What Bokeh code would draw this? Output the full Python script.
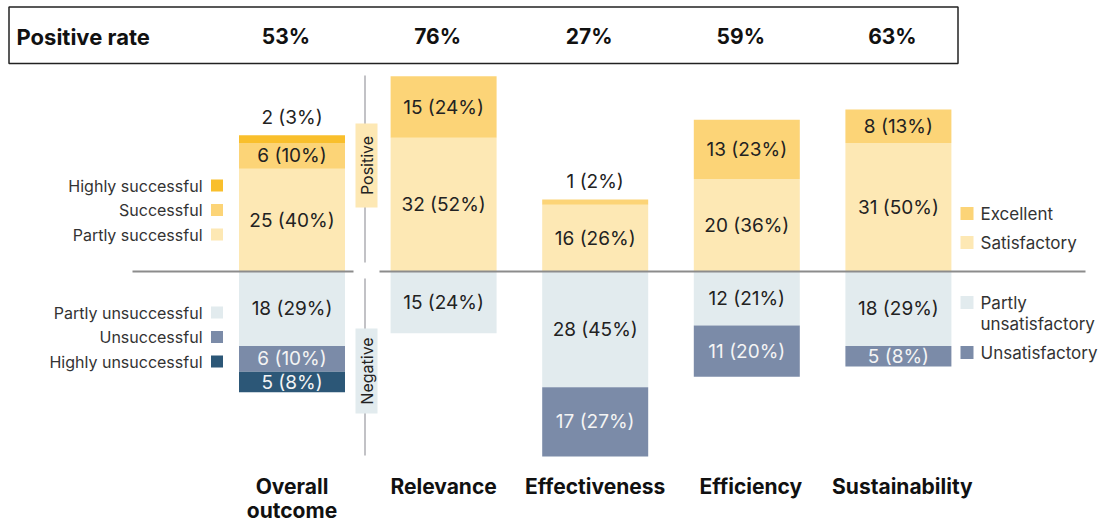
import math
from bokeh.plotting import figure
from bokeh.models import ColumnDataSource, Range1d
from bokeh.core.properties import value
from bokeh.embed import file_html
from bokeh.resources import INLINE

# ---- data -------------------------------------------------------------
categories = ["Overall outcome", "Relevance", "Effectiveness", "Efficiency", "Sustainability"]
cat_lines = [["Overall", "outcome"], ["Relevance"], ["Effectiveness"], ["Efficiency"], ["Sustainability"]]
positive_rate = ["53%", "76%", "27%", "59%", "63%"]

# positive side, from the baseline upwards (tier 1 = mildest)
pos_n = [[25, 32, 16, 20, 31], [6, 15, 1, 13, 8], [2, 0, 0, 0, 0]]
pos_pct = [[40, 52, 26, 36, 50], [10, 24, 2, 23, 13], [3, 0, 0, 0, 0]]
# negative side, from the baseline downwards
neg_n = [[18, 15, 28, 12, 18], [6, 0, 17, 11, 5], [5, 0, 0, 0, 0]]
neg_pct = [[29, 24, 45, 21, 29], [10, 0, 27, 20, 8], [8, 0, 0, 0, 0]]

legend_pos_left = ["Highly successful", "Successful", "Partly successful"]
legend_neg_left = ["Partly unsuccessful", "Unsuccessful", "Highly unsuccessful"]
legend_pos_right = ["Excellent", "Satisfactory"]
legend_neg_right = [["Partly", "unsatisfactory"], ["Unsatisfactory"]]

# ---- styling ----------------------------------------------------------
POS_COLORS = ["#FDE8B4", "#FCD477", "#F9BF2C"]
NEG_COLORS = ["#E2EBEE", "#7B8BA8", "#2C5777"]
NEG_TEXT = ["#222222", "#F4F4F4", "#F4F4F4"]
FONT = value("Inter")
W, H = 1109, 523

# pixel layout helpers (the figure frame fills the whole canvas)
X0, XSTEP = 291.5, 151.6
BASE, PXPCT = 271.0, 2.57


def sx(px):
    return (px - X0) / XSTEP


def sy(py):
    return (BASE - py) / PXPCT


p = figure(width=W, height=H, output_backend="svg", toolbar_location=None,
           x_axis_type=None, y_axis_type=None,
           x_range=Range1d(sx(0), sx(W)), y_range=Range1d(sy(H), sy(0)),
           min_border=0, min_border_left=0, min_border_right=0,
           min_border_top=0, min_border_bottom=0)
p.outline_line_color = None
p.xgrid.visible = False
p.ygrid.visible = False
p.background_fill_color = "white"

BAR_W = 106 / XSTEP
xs = list(range(len(categories)))

# ---- stacked bars -----------------------------------------------------
lab_x, lab_y, lab_t, lab_c = [], [], [], []


def stack(ns, pcts, colors, tcolors, sign):
    bottoms = [0.0] * len(xs)
    for tier in range(3):
        rows = dict(x=[], bottom=[], top=[])
        for i in xs:
            v = pcts[tier][i]
            if v <= 0:
                continue
            b = bottoms[i]
            t = b + sign * v
            rows["x"].append(i)
            rows["bottom"].append(b)
            rows["top"].append(t)
            if v < 5:
                # thin slice: label sits just outside the bar end
                lab_y.append(t + sign * 18 / PXPCT)
                lab_c.append("#222222")
            else:
                lab_y.append((b + t) / 2)
                lab_c.append(tcolors[tier])
            lab_x.append(i)
            lab_t.append(f"{ns[tier][i]} ({v}%)")
            bottoms[i] = t
        p.vbar(x="x", bottom="bottom", top="top", width=BAR_W,
               source=ColumnDataSource(rows), fill_color=colors[tier],
               line_color=None)


stack(pos_n, pos_pct, POS_COLORS, ["#222222"] * 3, 1)
stack(neg_n, neg_pct, NEG_COLORS, NEG_TEXT, -1)

p.text(x="x", y="y", text="t", text_color="c",
       source=ColumnDataSource(dict(x=lab_x, y=lab_y, t=lab_t, c=lab_c)),
       text_font=FONT, text_font_size="19px", text_align="center",
       text_baseline="middle")

# ---- baseline and divider ---------------------------------------------
p.segment(x0=[sx(132), sx(379)], y0=[0, 0], x1=[sx(353), sx(1085)], y1=[0, 0],
          line_color="#8C8C8C", line_width=2)
p.segment(x0=[sx(364.5), sx(364.5)], y0=[sy(75), sy(278)],
          x1=[sx(364.5), sx(364.5)], y1=[sy(262), sy(455)],
          line_color="#C2C2C6", line_width=2)
p.quad(left=[sx(355), sx(355)], right=[sx(377), sx(377)],
       top=[sy(123), sy(328)], bottom=[sy(207), sy(413)],
       fill_color=[POS_COLORS[0], NEG_COLORS[0]], line_color=None)
p.text(x=[sx(366), sx(366)], y=[sy(165), sy(370.5)], text=["Positive", "Negative"],
       angle=math.pi / 2, text_font=FONT, text_font_size="16px",
       text_color="#222222", text_align="center", text_baseline="middle")

# ---- header row -------------------------------------------------------
p.quad(left=[sx(8.5)], right=[sx(957.5)], top=[sy(6.5)], bottom=[sy(63)],
       fill_color=None, line_color="#222222", line_width=1.5)
p.text(x=[sx(16)], y=[sy(36)], text=["Positive rate"], text_font=FONT,
       text_font_size="22px", text_font_style="bold", text_color="#111111",
       text_align="left", text_baseline="middle")
p.text(x=[i - 6 / XSTEP for i in xs], y=[sy(36)] * len(xs), text=positive_rate,
       text_font=FONT, text_font_size="21px", text_font_style="bold",
       text_color="#111111", text_align="center", text_baseline="middle")

# ---- category labels --------------------------------------------------
cx, cy, ct = [], [], []
for i, lines in enumerate(cat_lines):
    for k, line in enumerate(lines):
        cx.append(i + (4 / XSTEP if i >= 3 else 0))
        cy.append(sy(486 + 24 * k))
        ct.append(line)
p.text(x=cx, y=cy, text=ct, text_font=FONT, text_font_size="21px",
       text_font_style="bold", text_color="#111111", text_align="center",
       text_baseline="middle")

# ---- left legend ------------------------------------------------------
left_items = legend_pos_left + legend_neg_left
left_cols = POS_COLORS[::-1] + NEG_COLORS
left_ys = [185, 209.5, 234, 312, 336.5, 361]
p.rect(x=[sx(216.5)] * 6, y=[sy(v) for v in left_ys], width=12, height=12,
       width_units="screen", height_units="screen", fill_color=left_cols,
       line_color=None)
p.text(x=[sx(202)] * 6, y=[sy(v) for v in left_ys], text=left_items,
       text_font=FONT, text_font_size="16px", text_color="#333333",
       text_align="right", text_baseline="middle")

# ---- right legend -----------------------------------------------------
right_cols = [POS_COLORS[1], POS_COLORS[0], NEG_COLORS[0], NEG_COLORS[1]]
right_ys = [213, 242, 302, 352]
p.rect(x=[sx(966.5)] * 4, y=[sy(v) for v in right_ys], width=13, height=13,
       width_units="screen", height_units="screen", fill_color=right_cols,
       line_color=None)
rt, ry = [], []
for label, yv in zip(legend_pos_right, right_ys[:2]):
    rt.append(label)
    ry.append(yv)
for lines, yv in zip(legend_neg_right, right_ys[2:]):
    for k, line in enumerate(lines):
        rt.append(line)
        ry.append(yv + 21 * k)
p.text(x=[sx(980)] * len(rt), y=[sy(v) for v in ry], text=rt,
       text_font=FONT, text_font_size="17px", text_color="#333333",
       text_align="left", text_baseline="middle")

open("out.html", "w").write(file_html(p, INLINE))
